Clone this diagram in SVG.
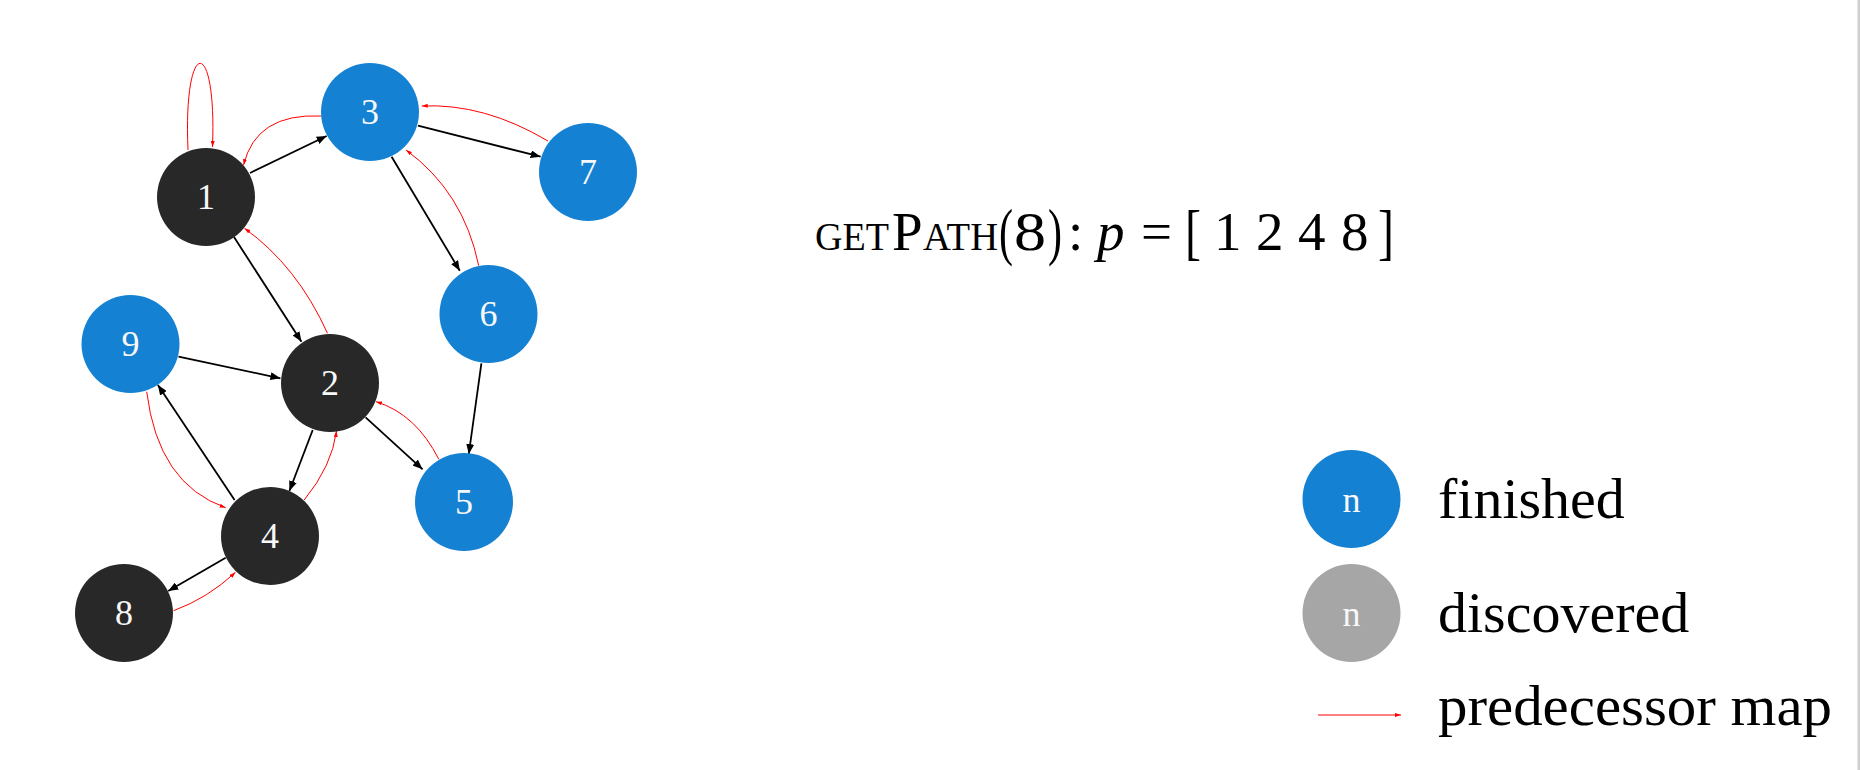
<svg xmlns="http://www.w3.org/2000/svg" width="1860" height="770" viewBox="0 0 1860 770">
<defs>
<style>
.fin{fill:#1581D3}
.dis{fill:#A6A6A6}
.blk{fill:#282828}
.lbl{font-family:"Liberation Serif","Times New Roman",serif;font-size:36px;fill:#F8F8F8;text-anchor:middle}
.e{fill:none;stroke:#000;stroke-width:1.8;marker-end:url(#ab)}
.p{fill:none;stroke:#FF0000;stroke-width:1;marker-end:url(#ar)}
.t{font-family:"Liberation Serif","Times New Roman",serif;font-size:58px;fill:#000}
.f{font-family:"Liberation Serif","Times New Roman",serif;font-size:55px;fill:#000}
</style>
<marker id="ab" viewBox="0 0 10 8" refX="10" refY="4" markerWidth="10" markerHeight="8" markerUnits="userSpaceOnUse" orient="auto"><path d="M0,0 L10,4 L0,8 z" fill="#000"/></marker>
<marker id="ar" viewBox="0 0 6 4" refX="6" refY="2" markerWidth="6" markerHeight="4" markerUnits="userSpaceOnUse" orient="auto"><path d="M0,0 L6,2 L0,4 z" fill="#FF0000"/></marker>
</defs>
<rect x="0" y="0" width="1860" height="770" fill="#FFFFFF"/>
<rect x="1857.5" y="0" width="2.5" height="770" fill="#D0D0D0"/>

<g id="connectors">
<path class="e" d="M250,173 L326.6,136"/>
<path class="e" d="M418,125.7 L540.6,156.7"/>
<path class="e" d="M391.6,156.7 L459.8,270.7"/>
<path class="e" d="M234,237 L301.5,341.7"/>
<path class="e" d="M178.5,356.7 L280.4,378.3"/>
<path class="e" d="M234.6,500 L157.9,385"/>
<path class="e" d="M312.7,430 L289.4,491"/>
<path class="e" d="M365.6,417.3 L422.6,469.3"/>
<path class="e" d="M481.4,363.3 L468.8,454"/>
<path class="e" d="M225.7,557.7 L168.2,591"/>
<path class="p" d="M188,150 C183,35 217,35 212.5,147"/>
<path class="p" d="M321,116 Q256,113 243.6,165"/>
<path class="p" d="M548,141 Q484,103 421.7,106"/>
<path class="p" d="M478.7,265.7 Q463.6,192 406,150"/>
<path class="p" d="M327.5,333.3 Q297,266 244.5,228.3"/>
<path class="p" d="M146.7,391.7 Q158,484 225.7,507.7"/>
<path class="p" d="M304.2,500 Q332,466 336.5,431"/>
<path class="p" d="M438.8,459.3 Q416,414 376,401.7"/>
<path class="p" d="M173.6,610.7 Q208,598 235.5,572.3"/>
</g>

<g id="node1"><circle class="blk" cx="206" cy="197" r="49"/><text class="lbl" x="206" y="209">1</text></g>
<g id="node2"><circle class="blk" cx="330" cy="383" r="49"/><text class="lbl" x="330" y="395">2</text></g>
<g id="node3"><circle class="fin" cx="370" cy="112" r="49"/><text class="lbl" x="370" y="124">3</text></g>
<g id="node4"><circle class="blk" cx="270" cy="536" r="49"/><text class="lbl" x="270" y="548">4</text></g>
<g id="node5"><circle class="fin" cx="464" cy="502" r="49"/><text class="lbl" x="464" y="514">5</text></g>
<g id="node6"><circle class="fin" cx="488.5" cy="314" r="49"/><text class="lbl" x="488.5" y="326">6</text></g>
<g id="node7"><circle class="fin" cx="588" cy="172" r="49"/><text class="lbl" x="588" y="184">7</text></g>
<g id="node8"><circle class="blk" cx="124" cy="613" r="49"/><text class="lbl" x="124" y="625">8</text></g>
<g id="node9"><circle class="fin" cx="130.5" cy="344" r="49"/><text class="lbl" x="130.5" y="356">9</text></g>

<g id="formula">
<text class="f" y="250"><tspan x="815" font-size="41" textLength="74" lengthAdjust="spacingAndGlyphs">GET</tspan><tspan x="892">P</tspan><tspan x="923" font-size="41" textLength="75" lengthAdjust="spacingAndGlyphs">ATH</tspan><tspan x="999" font-size="64" dy="3" textLength="14" lengthAdjust="spacingAndGlyphs">(</tspan><tspan x="1014" dy="-3" textLength="32" lengthAdjust="spacingAndGlyphs">8</tspan><tspan x="1048" font-size="64" dy="3" textLength="14" lengthAdjust="spacingAndGlyphs">)</tspan><tspan x="1068" dy="-3">:</tspan><tspan x="1097" font-style="italic">p</tspan><tspan x="1141">=</tspan><tspan x="1185" font-size="62" dy="3" textLength="16" lengthAdjust="spacingAndGlyphs">[</tspan><tspan x="1214" dy="-3">1</tspan><tspan x="1256">2</tspan><tspan x="1298">4</tspan><tspan x="1341">8</tspan><tspan x="1378" font-size="62" dy="3" textLength="16" lengthAdjust="spacingAndGlyphs">]</tspan></text>
</g>

<g id="legend-finished"><circle class="fin" cx="1351.5" cy="499" r="49"/><text class="lbl" x="1351.5" y="512" font-size="40">n</text><text class="t" x="1438" y="518">finished</text></g>
<g id="legend-discovered"><circle class="dis" cx="1351.5" cy="613" r="49"/><text class="lbl" x="1351.5" y="626" font-size="40">n</text><text class="t" x="1438" y="632">discovered</text></g>
<g id="legend-pred"><path class="p" d="M1318,715 L1401,715"/><text class="t" x="1438" y="725" textLength="394" lengthAdjust="spacingAndGlyphs">predecessor map</text></g>
</svg>
